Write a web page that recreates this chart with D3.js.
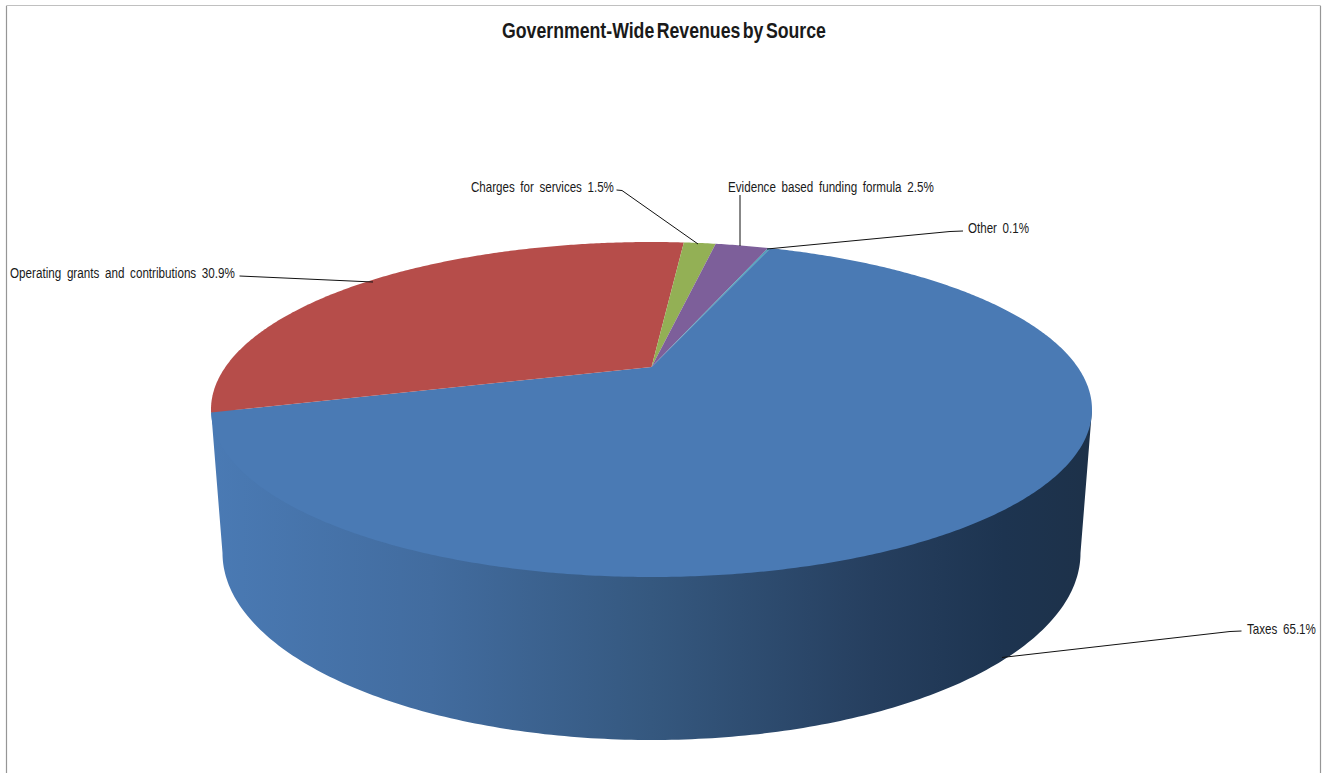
<!DOCTYPE html>
<html>
<head>
<meta charset="utf-8">
<script src="https://cdnjs.cloudflare.com/ajax/libs/d3/7.8.5/d3.min.js"></script>
<style>
  html, body { margin: 0; padding: 0; background: #fff; }
  svg { display: block; }
  text { font-family: "Liberation Sans", Arial, sans-serif; fill: #1a1a1a; }
</style>
</head>
<body>
<svg id="chart" width="1322" height="773"></svg>
<script>
const chartTitle = "Government-Wide Revenues by Source";
const categories = ["Taxes", "Operating grants and contributions", "Charges for services", "Evidence based funding formula", "Other"];
const shares = [65.1, 30.9, 1.5, 2.5, 0.1];
const sliceColors = ["#4a7ab4", "#b64d4a", "#93b055", "#7d5f9a", "#4a9cb8"];

const svg = d3.select("#chart");
const H = 773;

// Disc geometry in screen space
const topFace = { cx: 651.5, cy: 409.5, rx: 440.5, ry: 167.5 };
const baseFace = { cx: 651.5, cy: 553, rx: 429, ry: 187 };
const apexY = 367;
const c = (apexY - topFace.cy) / topFace.ry;   // perspective shift of the disc centre
const startAngle = 20.2 * Math.PI / 180;

// Projects a point of the unit disc to the tilted top face
function project(r, a) {
  const u = r * Math.sin(a), v = -r * Math.cos(a);
  const w = 1 + c * v;
  return [topFace.cx + topFace.rx * u * Math.sqrt(1 - c * c) / w,
          topFace.cy + topFace.ry * (v + c) / w];
}

const pie = d3.pie().sort(null).value(d => d)
  .startAngle(startAngle).endAngle(startAngle + 2 * Math.PI);
const arcs = pie(shares);

const grad = svg.append("defs").append("linearGradient").attr("id", "sideShade")
  .attr("gradientUnits", "userSpaceOnUse")
  .attr("x1", 211).attr("x2", 1092).attr("y1", 0).attr("y2", 0);
[[0, "#4a7ab4"], [0.25, "#426c9f"], [0.5, "#35587f"], [0.75, "#263f5f"], [0.9, "#1d3450"], [1, "#1d3149"]]
  .forEach(([o, col]) => grad.append("stop").attr("offset", o).attr("stop-color", col));

// Chart frame: open at the bottom, sides heavier than the top
svg.append("path").attr("d", `M6.5,${H}V5.5H1320.5V${H}`)
  .attr("fill", "none").attr("stroke", "#c0c0c0").attr("stroke-width", 1);
svg.append("path").attr("d", `M6.5,6V${H}M1320.5,6V${H}`)
  .attr("fill", "none").attr("stroke", "#969696").attr("stroke-width", 1.2);

// Side wall: runs under the top face along its widest chord, so no seam shows at the rim
const pathLine = d3.line();
const ellipsePts = (e, from, to, n = 200) => d3.range(n + 1).map(i => {
  const t = from + (to - from) * i / n;
  return [e.cx + e.rx * Math.cos(t), e.cy + e.ry * Math.sin(t)];
});
const wall = [
  [topFace.cx + topFace.rx, topFace.cy],
  [topFace.cx - topFace.rx, topFace.cy],
  ...ellipsePts(baseFace, Math.PI, 0)
];
svg.append("path").attr("d", pathLine(wall) + "Z").attr("fill", "url(#sideShade)");

// Top face slices
const slicePath = d => {
  const n = Math.max(2, Math.ceil((d.endAngle - d.startAngle) * 120));
  const pts = d3.range(n + 1).map(i => project(1, d.startAngle + (d.endAngle - d.startAngle) * i / n));
  return pathLine([project(0, 0), ...pts]) + "Z";
};
svg.append("g").selectAll("path").data(arcs).join("path")
  .attr("d", slicePath).attr("fill", (d, i) => sliceColors[i]);

// Draws a string condensed horizontally so that it fills the given width
function condensedText(x, y, width, size, wordGap, weight, str) {
  const t = svg.append("text").attr("font-size", size)
    .attr("word-spacing", wordGap).attr("font-weight", weight).text(str);
  const natural = t.node().getComputedTextLength();
  t.attr("transform", `translate(${x},${y}) scale(${width / natural},1)`);
  return t;
}

// Leader lines and labels
const labelSpots = [
  { x: 1247, y: 634, width: 69, line: [[1241.5, 631], [1230, 631.5], [1002, 657.5]] },
  { x: 10, y: 278, width: 225, line: [[239.5, 276], [373, 282]] },
  { x: 471, y: 192, width: 143, line: [[616.5, 190], [622, 190.5], [698, 244]] },
  { x: 728, y: 192, width: 206, line: [[740, 195], [740, 246]] },
  { x: 968, y: 233, width: 61, line: [[963, 231], [950, 231.5], [767, 249]] }
];
labelSpots.forEach((s, i) => {
  svg.append("path").attr("d", pathLine(s.line)).attr("fill", "none")
    .attr("stroke", "#111").attr("stroke-width", 1);
  condensedText(s.x, s.y, s.width, 14.5, 3, "normal", `${categories[i]} ${shares[i].toFixed(1)}%`);
});

condensedText(502, 38, 324, 21.5, -3, "bold", chartTitle);
</script>
</body>
</html>
